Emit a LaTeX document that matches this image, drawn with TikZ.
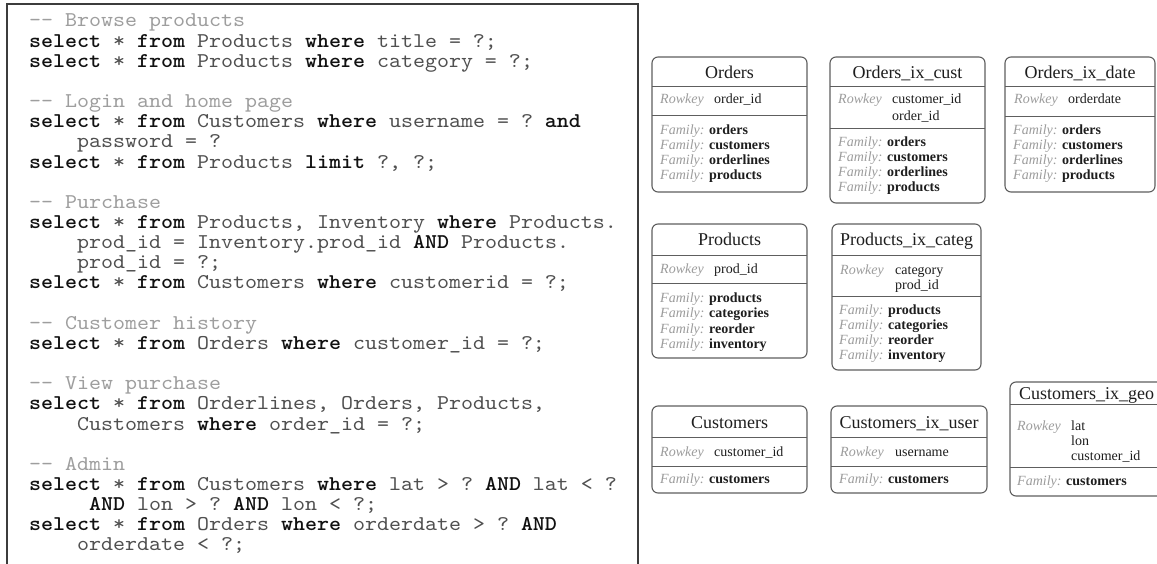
\documentclass[tikz,border=0pt]{standalone}
\usepackage{fontspec}
\setmainfont{Liberation Serif}
\newfontfamily\codefamily{lmmono10-regular.otf}[BoldFont=lmmonolt10-bold.otf, FakeStretch=1.088]

\definecolor{codec}{HTML}{505050}
\definecolor{kwc}{HTML}{111111}
\definecolor{cmtc}{HTML}{9E9E9E}
\definecolor{edgec}{HTML}{5E5E5E}
\definecolor{framec}{HTML}{3C3C3C}
\definecolor{inkc}{HTML}{1E1E1E}
\definecolor{labc}{HTML}{9C9C9C}

% code listing helpers
\newcommand\kw[1]{\textcolor{kwc}{\bfseries #1}}
\newcommand\cmt[1]{\textcolor{cmtc}{-\kern0pt- #1}}
% name, indent (characters), line number, text
\newcommand\codeline[4]{\node[code] (#1) at ({29+12*#2},{27+20.15*#3}) {#4};}

% table helpers
\newcommand\lab[1]{\textcolor{labc}{\itshape #1}}
% x0, y0, x1, y1, header rule y, key rule y
\newcommand\tablebox[6]{%
  \draw[tbl] (#1,#2) rectangle (#3,#4);
  \draw[rule] (#1,#5) -- (#3,#5);
  \draw[rule] (#1,#6) -- (#3,#6);}
\newcommand\famline[4]{\node[cell] (#1) at (#2,#3) {\lab{Family:} \textbf{#4}};}

\tikzset{
  code/.style={anchor=base west, inner sep=0pt, text=codec,
    font=\codefamily\fontsize{21}{20}\selectfont\frenchspacing},
  ttl/.style={anchor=base, inner sep=0pt, text=inkc,
    font=\fontsize{18}{18}\selectfont},
  cell/.style={anchor=base west, inner sep=0pt, text=inkc,
    font=\fontsize{14}{14}\selectfont},
  tbl/.style={draw=edgec, line width=1.1pt, rounded corners=6pt},
  rule/.style={draw=edgec, line width=1pt},
  frame/.style={draw=framec, line width=1.5pt},
}

\begin{document}
\begin{tikzpicture}[x=1pt,y=-1pt]
\fill[white] (0,0) rectangle (1157,564);
\useasboundingbox (0,0) rectangle (1157,564);
\clip (0,0) rectangle (1157,564);

% ---- query listing ----
\draw[frame] (7,570) -- (7,4) -- (638,4) -- (638,570);
\codeline{c0}{0}{0}{\cmt{Browse products}}
\codeline{c1}{0}{1}{\kw{select} * \kw{from} Products \kw{where} title = ?;}
\codeline{c2}{0}{2}{\kw{select} * \kw{from} Products \kw{where} category = ?;}
\codeline{c4}{0}{4}{\cmt{Login and home page}}
\codeline{c5}{0}{5}{\kw{select} * \kw{from} Customers \kw{where} username = ? \kw{and}}
\codeline{c6}{4}{6}{password = ?}
\codeline{c7}{0}{7}{\kw{select} * \kw{from} Products \kw{limit} ?, ?;}
\codeline{c9}{0}{9}{\cmt{Purchase}}
\codeline{c10}{0}{10}{\kw{select} * \kw{from} Products, Inventory \kw{where} Products.}
\codeline{c11}{4}{11}{prod\_id = Inventory.prod\_id \kw{AND} Products.}
\codeline{c12}{4}{12}{prod\_id = ?;}
\codeline{c13}{0}{13}{\kw{select} * \kw{from} Customers \kw{where} customerid = ?;}
\codeline{c15}{0}{15}{\cmt{Customer history}}
\codeline{c16}{0}{16}{\kw{select} * \kw{from} Orders \kw{where} customer\_id = ?;}
\codeline{c18}{0}{18}{\cmt{View purchase}}
\codeline{c19}{0}{19}{\kw{select} * \kw{from} Orderlines, Orders, Products,}
\codeline{c20}{4}{20}{Customers \kw{where} order\_id = ?;}
\codeline{c22}{0}{22}{\cmt{Admin}}
\codeline{c23}{0}{23}{\kw{select} * \kw{from} Customers \kw{where} lat > ? \kw{AND} lat < ?}
\codeline{c24}{5}{24}{\kw{AND} lon > ? \kw{AND} lon < ?;}
\codeline{c25}{0}{25}{\kw{select} * \kw{from} Orders \kw{where} orderdate > ? \kw{AND}}
\codeline{c26}{4}{26}{orderdate < ?;}

% ---- Orders ----
\tablebox{652}{57}{807}{192}{87}{116}
\node[ttl] (orders) at (729.5,79) {Orders};
\node[cell] (orders-rk) at (660,104) {\lab{Rowkey}};
\node[cell] (orders-k1) at (714,104) {order\_id};
\famline{orders-f1}{660}{135}{orders}
\famline{orders-f2}{660}{150}{customers}
\famline{orders-f3}{660}{165}{orderlines}
\famline{orders-f4}{660}{180}{products}

% ---- Orders_ix_cust ----
\tablebox{830}{57}{985}{203}{87}{129}
\node[ttl] (ocust) at (907.5,79) {Orders\_ix\_cust};
\node[cell] (ocust-rk) at (838,104) {\lab{Rowkey}};
\node[cell] (ocust-k1) at (892,104) {customer\_id};
\node[cell] (ocust-k2) at (892,121) {order\_id};
\famline{ocust-f1}{838}{147}{orders}
\famline{ocust-f2}{838}{162}{customers}
\famline{ocust-f3}{838}{177}{orderlines}
\famline{ocust-f4}{838}{192}{products}

% ---- Orders_ix_date ----
\tablebox{1005}{57}{1155}{192}{87}{117}
\node[ttl] (odate) at (1080,79) {Orders\_ix\_date};
\node[cell] (odate-rk) at (1014,104) {\lab{Rowkey}};
\node[cell] (odate-k1) at (1068,104) {orderdate};
\famline{odate-f1}{1013}{135}{orders}
\famline{odate-f2}{1013}{150}{customers}
\famline{odate-f3}{1013}{165}{orderlines}
\famline{odate-f4}{1013}{180}{products}

% ---- Products ----
\tablebox{652}{224}{807}{358}{256}{283}
\node[ttl] (prod) at (729.5,246) {Products};
\node[cell] (prod-rk) at (660,273) {\lab{Rowkey}};
\node[cell] (prod-k1) at (714,273) {prod\_id};
\famline{prod-f1}{660}{302}{products}
\famline{prod-f2}{660}{317}{categories}
\famline{prod-f3}{660}{333}{reorder}
\famline{prod-f4}{660}{348}{inventory}

% ---- Products_ix_categ ----
\tablebox{832}{224}{981}{370}{256}{296}
\node[ttl] (pcat) at (906.5,246) {Products\_ix\_categ};
\node[cell] (pcat-rk) at (840,274) {\lab{Rowkey}};
\node[cell] (pcat-k1) at (895,274) {category};
\node[cell] (pcat-k2) at (895,289) {prod\_id};
\famline{pcat-f1}{839}{314}{products}
\famline{pcat-f2}{839}{329}{categories}
\famline{pcat-f3}{839}{344}{reorder}
\famline{pcat-f4}{839}{359}{inventory}

% ---- Customers ----
\tablebox{652}{406}{807}{493}{437}{466}
\node[ttl] (cust) at (729.5,428) {Customers};
\node[cell] (cust-rk) at (660,456) {\lab{Rowkey}};
\node[cell] (cust-k1) at (714,456) {customer\_id};
\famline{cust-f1}{660}{483}{customers}

% ---- Customers_ix_user ----
\tablebox{831}{406}{987}{493}{437}{466}
\node[ttl] (cuser) at (909,428) {Customers\_ix\_user};
\node[cell] (cuser-rk) at (840,456) {\lab{Rowkey}};
\node[cell] (cuser-k1) at (895,456) {username};
\famline{cuser-f1}{839}{483}{customers}

% ---- Customers_ix_geo ----
\tablebox{1010}{382}{1175}{496}{404}{467}
\node[ttl, anchor=base west] (cgeo) at (1019,399) {Customers\_ix\_geo};
\node[cell] (cgeo-rk) at (1017,430) {\lab{Rowkey}};
\node[cell] (cgeo-k1) at (1071,430) {lat};
\node[cell] (cgeo-k2) at (1071,445) {lon};
\node[cell] (cgeo-k3) at (1071,460) {customer\_id};
\famline{cgeo-f1}{1017}{485}{customers}
\end{tikzpicture}
\end{document}
